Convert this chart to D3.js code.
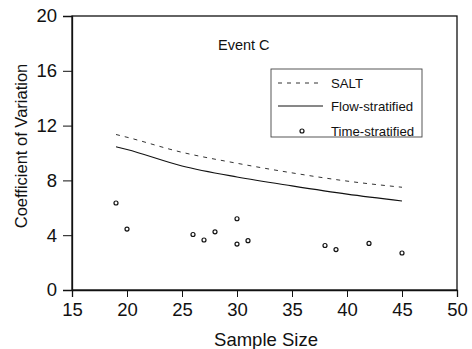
<!DOCTYPE html>
<html lang="en">
<head>
<meta charset="utf-8">
<title>Event C</title>
<script src="https://cdn.jsdelivr.net/npm/d3@7"></script>
<style>
  body { margin: 0; background: #fff; }
  text { font-family: "Liberation Sans", Arial, sans-serif; fill: #111; }
</style>
</head>
<body>
<script>
// curves
var lineX = [19, 20, 25, 30, 35, 40, 45];
var saltCV = [11.35, 11.15, 10.05, 9.25, 8.55, 7.95, 7.5];
var flowCV = [10.45, 10.25, 9.05, 8.25, 7.6, 7.0, 6.5];
// time-stratified scatter
var timeN = [19, 20, 26, 27, 28, 30, 30, 31, 38, 39, 42, 45];
var timeCV = [6.35, 4.45, 4.05, 3.65, 4.25, 5.2, 3.35, 3.6, 3.25, 2.95, 3.4, 2.7];
var xTicks = [15, 20, 25, 30, 35, 40, 45, 50];
var yTicks = [0, 4, 8, 12, 16, 20];

var w = 472, h = 349;
var pLeft = 72, pRight = 457, pTop = 16, pBottom = 290;

var svg = d3.select("body").append("svg")
  .attr("width", w)
  .attr("height", h);

var x = d3.scaleLinear().domain([15, 50]).range([pLeft, pRight]);
var y = d3.scaleLinear().domain([0, 20]).range([pBottom, pTop]);

// frame
svg.append("rect")
  .attr("x", pLeft).attr("y", pTop)
  .attr("width", pRight - pLeft).attr("height", pBottom - pTop)
  .attr("fill", "none").attr("stroke", "#111").attr("stroke-width", 1.3);

var xAxis = svg.append("g")
  .attr("transform", "translate(0," + pBottom + ")")
  .call(d3.axisBottom(x).tickValues(xTicks).tickSize(7).tickPadding(6).tickFormat(d3.format("d")));
var yAxis = svg.append("g")
  .attr("transform", "translate(" + pLeft + ",0)")
  .call(d3.axisLeft(y).tickValues(yTicks).tickSize(9).tickPadding(6).tickFormat(d3.format("d")));

[xAxis, yAxis].forEach(function (g) {
  g.select(".domain").attr("stroke", "#111").attr("stroke-width", 1.3);
  g.selectAll(".tick line").attr("stroke", "#111").attr("stroke-width", 1);
  g.selectAll(".tick text")
    .attr("font-family", "'Liberation Sans', Arial, sans-serif")
    .attr("font-size", 18.5).attr("fill", "#111");
});

svg.append("text")
  .attr("x", 266).attr("y", 346)
  .attr("text-anchor", "middle").attr("font-size", 18.5)
  .text("Sample Size");

svg.append("text")
  .attr("transform", "translate(27,146) rotate(-90)")
  .attr("text-anchor", "middle").attr("font-size", 16.5)
  .text("Coefficient of Variation");

svg.append("text")
  .attr("x", 218).attr("y", 50)
  .attr("font-size", 14.5)
  .text("Event C");

var line = d3.line()
  .x(function (d) { return x(d[0]); })
  .y(function (d) { return y(d[1]); })
  .curve(d3.curveMonotoneX);

svg.append("path")
  .datum(d3.zip(lineX, saltCV))
  .attr("d", line)
  .attr("fill", "none").attr("stroke", "#333").attr("stroke-width", 1)
  .attr("stroke-dasharray", "4,5");

svg.append("path")
  .datum(d3.zip(lineX, flowCV))
  .attr("d", line)
  .attr("fill", "none").attr("stroke", "#111").attr("stroke-width", 1.1);

svg.selectAll("circle.pt")
  .data(d3.zip(timeN, timeCV))
  .enter().append("circle")
  .attr("class", "pt")
  .attr("cx", function (d) { return x(d[0]); })
  .attr("cy", function (d) { return y(d[1]); })
  .attr("r", 2)
  .attr("fill", "none").attr("stroke", "#111").attr("stroke-width", 1.2);

// legend
var lg = svg.append("g");
lg.append("rect")
  .attr("x", 271).attr("y", 69).attr("width", 151).attr("height", 68)
  .attr("fill", "#fff").attr("stroke", "#444").attr("stroke-width", 0.9);
lg.append("line")
  .attr("x1", 278).attr("x2", 323).attr("y1", 83).attr("y2", 83)
  .attr("stroke", "#333").attr("stroke-dasharray", "4,5");
lg.append("line")
  .attr("x1", 278).attr("x2", 323).attr("y1", 106).attr("y2", 106)
  .attr("stroke", "#111");
lg.append("circle")
  .attr("cx", 302).attr("cy", 131).attr("r", 2)
  .attr("fill", "none").attr("stroke", "#111").attr("stroke-width", 1.2);
var labels = ["SALT", "Flow-stratified", "Time-stratified"];
lg.selectAll("text.lab")
  .data(labels)
  .enter().append("text")
  .attr("class", "lab")
  .attr("x", 331)
  .attr("y", function (d, i) { return [83, 106, 131][i] + 4.5; })
  .attr("font-size", 13.2)
  .text(function (d) { return d; });
</script>
</body>
</html>
